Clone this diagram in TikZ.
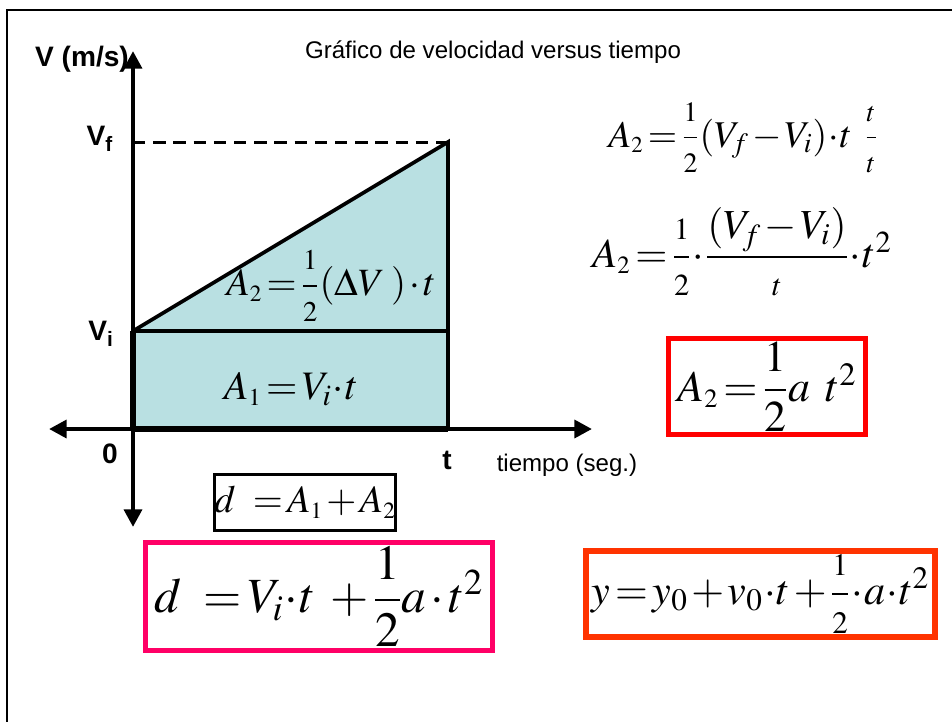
\documentclass[tikz,border=0pt]{standalone}
\usepackage{amsmath}
\usepackage{mathptmx}
\usepackage[no-math]{fontspec}
\setmainfont{Liberation Serif}
\setsansfont{Liberation Sans}
\usetikzlibrary{positioning, arrows.meta}
\definecolor{areafill}{RGB}{185,224,226}
\definecolor{boxred}{RGB}{255,0,0}
\definecolor{boxpink}{RGB}{255,0,102}
\definecolor{boxorange}{RGB}{255,51,0}
\newcommand{\tightmath}{\thinmuskip=1mu\medmuskip=1.5mu\thickmuskip=2mu}
\newcommand{\half}{\dfrac{\scriptstyle 1}{\scriptstyle 2}}
\newcommand{\gap}{\mkern6mu}

\begin{document}
\begin{tikzpicture}[x=0.02cm,y=-0.02cm,
    axis/.style={line width=2.8pt,{Triangle[length=10pt,width=10pt]}-{Triangle[length=10pt,width=10pt]}},
    edge/.style={line width=2.1pt},
    lbl/.style={font=\sffamily\bfseries\fontsize{16}{18}\selectfont},
    txt/.style={font=\sffamily\fontsize{13.7}{16}\selectfont},
    eq/.style={inner sep=0pt,execute at begin node=\tightmath},
    eqbox/.style={draw,line width=#1,inner sep=0pt,execute at begin node=\tightmath}]
    \useasboundingbox (0,0) rectangle (952,721);
    \draw[line width=1.2pt] (7,10) rectangle (980,760);

    % corners of the two areas
    \coordinate (O)  at (133,429);
    \coordinate (Vi) at (133,331);
    \coordinate (Vf) at (133,142);
    \coordinate (T)  at (448,429);
    \coordinate (Ti) at (448,331);
    \coordinate (Tf) at (448,142);
    % axis ends
    \coordinate (yTop) at (133,51);
    \coordinate (yBot) at (133,527);
    \coordinate (xL)   at (49,429);
    \coordinate (xR)   at (592,429);

    \fill[areafill] (O) rectangle (Ti);
    \fill[areafill] (Vi) -- (Tf) -- (Ti) -- cycle;
    \draw[edge] (Vi) -- (Ti) -- (T);
    \draw[edge] (Vi) -- (Tf) -- (Ti);
    \draw[line width=1.7pt,dash pattern=on 7pt off 4.5pt] (Vf) -- (Tf);
    \draw[axis] (yBot) -- (yTop);
    \draw[axis] (xL) -- (xR);
    \draw[line width=3.8pt] (O) -- (T);
    \draw[line width=3.8pt] (O) -- (Vi);

    \node[lbl] (vlab)  at (82,59)   {V (m/s)};
    \node[lbl] (vflab) at (100,139) {V\textsubscript{f}};
    \node[lbl] (vilab) at (101,334) {V\textsubscript{i}};
    \node[lbl] (zero)  at (110,454) {0};
    \node[lbl] (tlab)  at (447,460) {t};
    \node[txt] (tiempo) at (567,465) {tiempo (seg.)};
    \node[txt] (title) at (493,52) {Gráfico de velocidad versus tiempo};

    \node[eq,font=\fontsize{22}{24}\selectfont] (atri) at (331,286) {$A_{\scriptscriptstyle 2}=\half(\Delta V\mkern3mu)\cdot t$};
    \node[eq,font=\fontsize{23}{26}\selectfont] (arect) at (291,389) {$A_{\scriptscriptstyle 1}=V_i\!\cdot\! t$};

    \node[eq,font=\fontsize{21.5}{26}\selectfont] (eqone) at (743,138) {$A_{\scriptscriptstyle 2}=\half(V_{\!f}-V_i)\!\cdot\! t\gap\dfrac{\scriptstyle t}{\scriptstyle t}$};
    \node[eq,font=\fontsize{23.5}{30}\selectfont] (eqtwo) at (742,252) {$A_{\scriptscriptstyle 2}=\half\!\cdot\!\dfrac{(V_{\!f}-V_i)}{\scriptstyle t}\!\cdot\! t^{2}$};

    \node[eqbox=2.8pt,draw=boxred,minimum width=3.94cm,minimum height=1.92cm,font=\fontsize{25}{30}\selectfont] (boxa) at (767,386.5) {$A_{\scriptscriptstyle 2}=\dfrac{1}{2}a\gap t^{2}$};
    \node[eqbox=1.7pt,minimum width=3.62cm,minimum height=1.12cm,font=\fontsize{22}{26}\selectfont] (boxd) at (305,502.5) {$d\gap=A_{\scriptscriptstyle 1}+A_{\scriptscriptstyle 2}$};
    \node[eqbox=2.8pt,draw=boxpink,minimum width=6.94cm,minimum height=2.16cm,font=\fontsize{28}{34}\selectfont] (boxdist) at (319,596.5) {$d\gap=V_i\!\cdot\! t\mkern4mu+\dfrac{1}{2}a\cdot t^{2}$};
    \node[eqbox=3.2pt,draw=boxorange,minimum width=6.98cm,minimum height=1.72cm,font=\fontsize{24}{28}\selectfont] (boxy) at (760.5,594) {$y=y_0+v_0\!\cdot\! t+\half\!\cdot\! a\!\cdot\! t^{2}$};
\end{tikzpicture}
\end{document}
